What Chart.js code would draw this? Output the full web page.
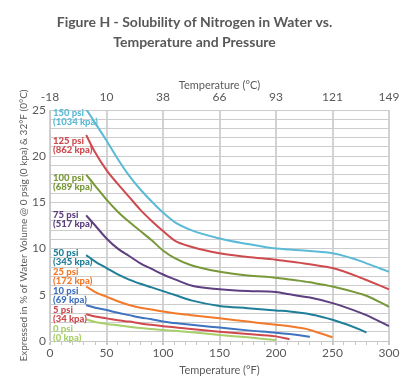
<!DOCTYPE html>
<html>
<head>
<meta charset="utf-8">
<script src="https://cdn.jsdelivr.net/npm/chart.js@4.4.0/dist/chart.umd.min.js"></script>
<style>
  body { margin: 0; background: #fff; }
  #chart { display: block; }
</style>
</head>
<body>
<canvas id="chart" width="410" height="388"></canvas>
<script>
// temperatures (°F) where the curves are read
const tempsF = [32, 40, 50, 60, 70, 80, 90, 100, 110, 125, 150, 175, 200, 212, 225, 230, 250, 275, 280, 300];

// solubility, % of water volume
const psi150 = [25.1, 23.6, 21.7, 19.7, 17.9, 16.4, 15.1, 13.9, 12.9, 12.0, 11.1, 10.5, 10.0, 9.9, 9.8, 9.75, 9.5, 8.65, 8.4, 7.5];
const psi125 = [22.3, 20.4, 18.5, 17.0, 15.6, 14.2, 13.0, 11.9, 10.9, 10.2, 9.5, 9.1, 8.8, 8.6, 8.4, 8.3, 7.9, 6.85, 6.6, 5.6];
const psi100 = [18.0, 16.8, 15.3, 14.0, 12.9, 11.9, 10.9, 9.8, 9.0, 8.2, 7.5, 7.1, 6.85, 6.65, 6.45, 6.35, 5.9, 5.1, 4.9, 3.7];
const psi75 = [13.6, 12.5, 11.1, 10.0, 9.2, 8.4, 7.8, 7.2, 6.7, 6.0, 5.6, 5.4, 5.3, 5.05, 4.8, 4.7, 4.1, 3.05, 2.8, 1.6];
const psi50 = [9.3, 8.6, 7.9, 7.2, 6.65, 6.2, 5.8, 5.4, 5.0, 4.4, 3.8, 3.55, 3.3, 3.2, 3.0, 2.9, 2.3, 1.2, 0.9, null];
const psi25 = [5.9, 5.3, 4.8, 4.3, 3.9, 3.6, 3.4, 3.2, 3.0, 2.8, 2.45, 2.1, 1.75, 1.6, 1.35, 1.2, 0.4, null, null, null];
const psi10 = [3.9, 3.6, 3.35, 3.05, 2.8, 2.55, 2.35, 2.1, 1.95, 1.75, 1.45, 1.15, 0.9, 0.75, 0.55, 0.45, null, null, null, null];
const psi5 = [2.9, 2.65, 2.45, 2.25, 2.1, 1.9, 1.75, 1.6, 1.5, 1.3, 1.0, 0.75, 0.5, 0.2, null, null, null, null, null, null];
const psi0 = [2.35, 2.05, 1.85, 1.7, 1.55, 1.4, 1.3, 1.2, 1.1, 0.95, 0.65, 0.4, 0.1, null, null, null, null, null, null, null];

const psiNames = ['150 psi', '125 psi', '100 psi', '75 psi', '50 psi', '25 psi', '10 psi', '5 psi', '0 psi'];
const kpaNames = ['(1034 kpa)', '(862 kpa)', '(689 kpa)', '(517 kpa)', '(345 kpa)', '(172 kpa)', '(69 kpa)', '(34 kpa)', '(0 kpa)'];
const labelLevels = [24.7, 21.7, 17.7, 13.6, 9.5, 7.5, 5.45, 3.35, 1.3];
const colors = ['#5bbad5', '#cf4a4e', '#78983a', '#5e3f80', '#1f7e98', '#f37a2a', '#3f72bf', '#cf4a4e', '#a7cf6b'];

const allSeries = [psi150, psi125, psi100, psi75, psi50, psi25, psi10, psi5, psi0];

const FONT = 'Lato, "Open Sans", sans-serif';

const datasets = allSeries.map((vals, i) => ({
    label: psiNames[i],
    data: tempsF.map((t, j) => ({ x: t, y: vals[j] })).filter(p => p.y !== null),
    borderColor: colors[i],
    borderWidth: 2,
    pointRadius: 0,
    cubicInterpolationMode: 'monotone',
    tension: 0.4
}));

// series names written inside the plot, on the left
const seriesLabels = {
    id: 'seriesLabels',
    afterDatasetsDraw(chart) {
        const c = chart.ctx;
        const y = chart.scales.y;
        const left = chart.chartArea.left + 3;
        c.save();
        c.font = '900 9.5px ' + FONT;
        c.textBaseline = 'middle';
        c.textAlign = 'left';
        psiNames.forEach((name, i) => {
            const py = y.getPixelForValue(labelLevels[i]);
            c.fillStyle = colors[i];
            c.fillText(name, left, py);
            c.fillText(kpaNames[i], left, py + 9);
        });
        c.restore();
    }
};

const grey = '#5a5a5a';

new Chart(document.getElementById('chart'), {
    type: 'line',
    data: { datasets },
    plugins: [seriesLabels],
    options: {
        responsive: false,
        animation: false,
        layout: { padding: { left: 0, right: 21, top: 0, bottom: 0 } },
        plugins: {
            legend: { display: false },
            tooltip: { enabled: false },
            title: {
                display: true,
                text: ['Figure H - Solubility of Nitrogen in Water vs.', 'Temperature and Pressure'],
                color: '#585858',
                font: { family: FONT, size: 14, weight: 'bold', lineHeight: 1.43 },
                padding: { top: 12, bottom: 0 }
            }
        },
        scales: {
            x: {
                type: 'linear',
                position: 'bottom',
                min: 0,
                max: 300,
                afterFit(s) { s.height = 47; },
                ticks: {
                    stepSize: 10,
                    autoSkip: false,
                    maxRotation: 0,
                    padding: 1,
                    color: grey,
                    font: { family: FONT, size: 12 },
                    callback: v => (v % 50 === 0 ? v : '')
                },
                grid: {
                    color: ctx => (ctx.tick && ctx.tick.value % 50 === 0 ? '#d2d2d2' : 'rgba(0,0,0,0)'),
                    lineWidth: ctx => (ctx.tick && ctx.tick.value % 50 === 0 ? 2 : 1),
                    tickColor: '#c8c8c8',
                    tickLength: 4
                },
                border: { color: '#c8c8c8' },
                title: {
                    display: true,
                    text: 'Temperature (°F)',
                    color: grey,
                    font: { family: FONT, size: 11 },
                    padding: { top: 0, bottom: 11 }
                }
            },
            x2: {
                type: 'linear',
                position: 'top',
                min: 0,
                max: 300,
                afterFit(s) { s.height = 58; },
                ticks: {
                    stepSize: 50,
                    padding: 6,
                    color: grey,
                    font: { family: FONT, size: 12 },
                    callback: v => Math.round((v - 32) * 5 / 9)
                },
                grid: { drawOnChartArea: false, drawTicks: false },
                border: { display: false },
                title: {
                    display: true,
                    text: 'Temperature (°C)',
                    color: grey,
                    font: { family: FONT, size: 11 },
                    padding: { top: 27, bottom: 0 }
                }
            },
            y: {
                min: 0,
                max: 25,
                afterFit(s) { s.width = 50; },
                ticks: {
                    stepSize: 1,
                    autoSkip: false,
                    padding: 4,
                    color: grey,
                    font: { family: FONT, size: 12 },
                    callback: v => (v % 5 === 0 ? v : '')
                },
                grid: { color: '#cccccc', lineWidth: 1, drawTicks: false },
                border: { color: '#c8c8c8' },
                title: {
                    display: true,
                    text: 'Expressed in % of Water Volume @ 0 psig (0 kpa) & 32°F (0°C)',
                    color: grey,
                    font: { family: FONT, size: 10 },
                    padding: { top: 18, bottom: 0 }
                }
            }
        }
    }
});
</script>
</body>
</html>
